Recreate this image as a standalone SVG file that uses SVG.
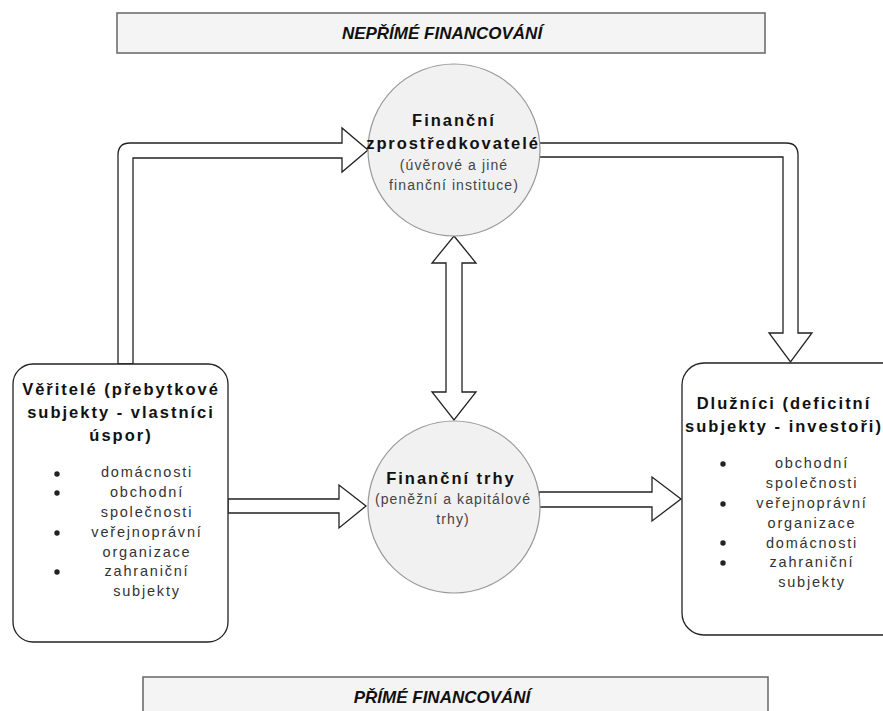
<svg xmlns="http://www.w3.org/2000/svg" width="883" height="711" viewBox="0 0 883 711">
<style>
text{font-family:"Liberation Sans",Arial,sans-serif;text-anchor:middle}
.band{fill:#f4f4f4;stroke:#666;stroke-width:1.5}
.bandt{font-size:17px;font-weight:bold;font-style:italic;fill:#111}
.circ{fill:#f1f1f1;stroke:#999;stroke-width:1.2}
.box{fill:#fff;stroke:#222;stroke-width:1.3}
.arr{fill:#fff;stroke:#222;stroke-width:1.3;stroke-linejoin:miter}
.ttl{font-size:16.5px;font-weight:bold;fill:#111;letter-spacing:2px}
.sub{font-size:14px;fill:#444;letter-spacing:1.1px}
.li{font-size:14.5px;fill:#333;letter-spacing:1.8px}
.bul{fill:#222}
</style>
<g id="band-top">
<rect class="band" x="117" y="13" width="648" height="40"/>
<text class="bandt" x="442" y="39">NEPŘÍMÉ FINANCOVÁNÍ</text>
</g>
<g id="band-bottom">
<rect class="band" x="143" y="677" width="625" height="45"/>
<text class="bandt" x="442" y="703">PŘÍMÉ FINANCOVÁNÍ</text>
</g>
<g id="connectors">
<path class="arr" d="M118,364 L118,155 Q118,143 130,143 L342,143 L342,128 L368,150 L342,172 L342,158 L133,158 L133,364 Z"/>
<path class="arr" d="M539,143 L786,143 Q798,143 798,155 L798,333 L812,333 L790.500,362 L769,333 L783,333 L783,157 L539,157 Z"/>
<path class="arr" d="M454,236 L476,263 L462,263 L462,392 L476,392 L454,420 L432,392 L446,392 L446,263 L432,263 Z"/>
<path class="arr" d="M228,499 L339,499 L339,485 L366,506 L339,528 L339,513 L228,513 Z"/>
<path class="arr" d="M539,492 L652,492 L652,477 L681,499 L652,521 L652,507 L539,507 Z"/>
</g>
<g id="node-intermediaries">
<circle class="circ" cx="454" cy="150" r="86"/>
<text class="ttl" x="454" y="126">Finanční</text>
<text class="ttl" x="453" y="149" style="letter-spacing:1.9px">zprostředkovatelé</text>
<text class="sub" x="454" y="170">(úvěrové a jiné</text>
<text class="sub" x="454" y="190">finanční instituce)</text>
</g>
<g id="node-markets">
<circle class="circ" cx="454" cy="507" r="86"/>
<text class="ttl" x="451" y="484">Finanční trhy</text>
<text class="sub" x="453" y="504">(peněžní a kapitálové</text>
<text class="sub" x="453" y="524">trhy)</text>
</g>
<g id="node-creditors">
<rect class="box" x="13" y="364" width="215" height="278" rx="20"/>
<text class="ttl" x="121" y="395">Věřitelé (přebytkové</text>
<text class="ttl" x="121" y="418">subjekty - vlastníci</text>
<text class="ttl" x="121" y="441">úspor)</text>
<circle class="bul" cx="57" cy="474" r="2.700"/>
<circle class="bul" cx="57" cy="493" r="2.700"/>
<circle class="bul" cx="57" cy="533" r="2.700"/>
<circle class="bul" cx="57" cy="572" r="2.700"/>
<text class="li" x="147" y="477">domácnosti</text>
<text class="li" x="147" y="497">obchodní</text>
<text class="li" x="147" y="517">společnosti</text>
<text class="li" x="147" y="537">veřejnoprávní</text>
<text class="li" x="147" y="557">organizace</text>
<text class="li" x="147" y="576">zahraniční</text>
<text class="li" x="147" y="596">subjekty</text>
</g>
<g id="node-debtors">
<rect class="box" x="682" y="363" width="230" height="272" rx="22"/>
<text class="ttl" x="784" y="409">Dlužníci (deficitní</text>
<text class="ttl" x="784" y="432">subjekty - investoři)</text>
<circle class="bul" cx="723" cy="464" r="2.700"/>
<circle class="bul" cx="723" cy="504" r="2.700"/>
<circle class="bul" cx="723" cy="543" r="2.700"/>
<circle class="bul" cx="723" cy="563" r="2.700"/>
<text class="li" x="812" y="468">obchodní</text>
<text class="li" x="812" y="488">společnosti</text>
<text class="li" x="812" y="508">veřejnoprávní</text>
<text class="li" x="812" y="528">organizace</text>
<text class="li" x="812" y="548">domácnosti</text>
<text class="li" x="812" y="567">zahraniční</text>
<text class="li" x="812" y="587">subjekty</text>
</g>
</svg>
